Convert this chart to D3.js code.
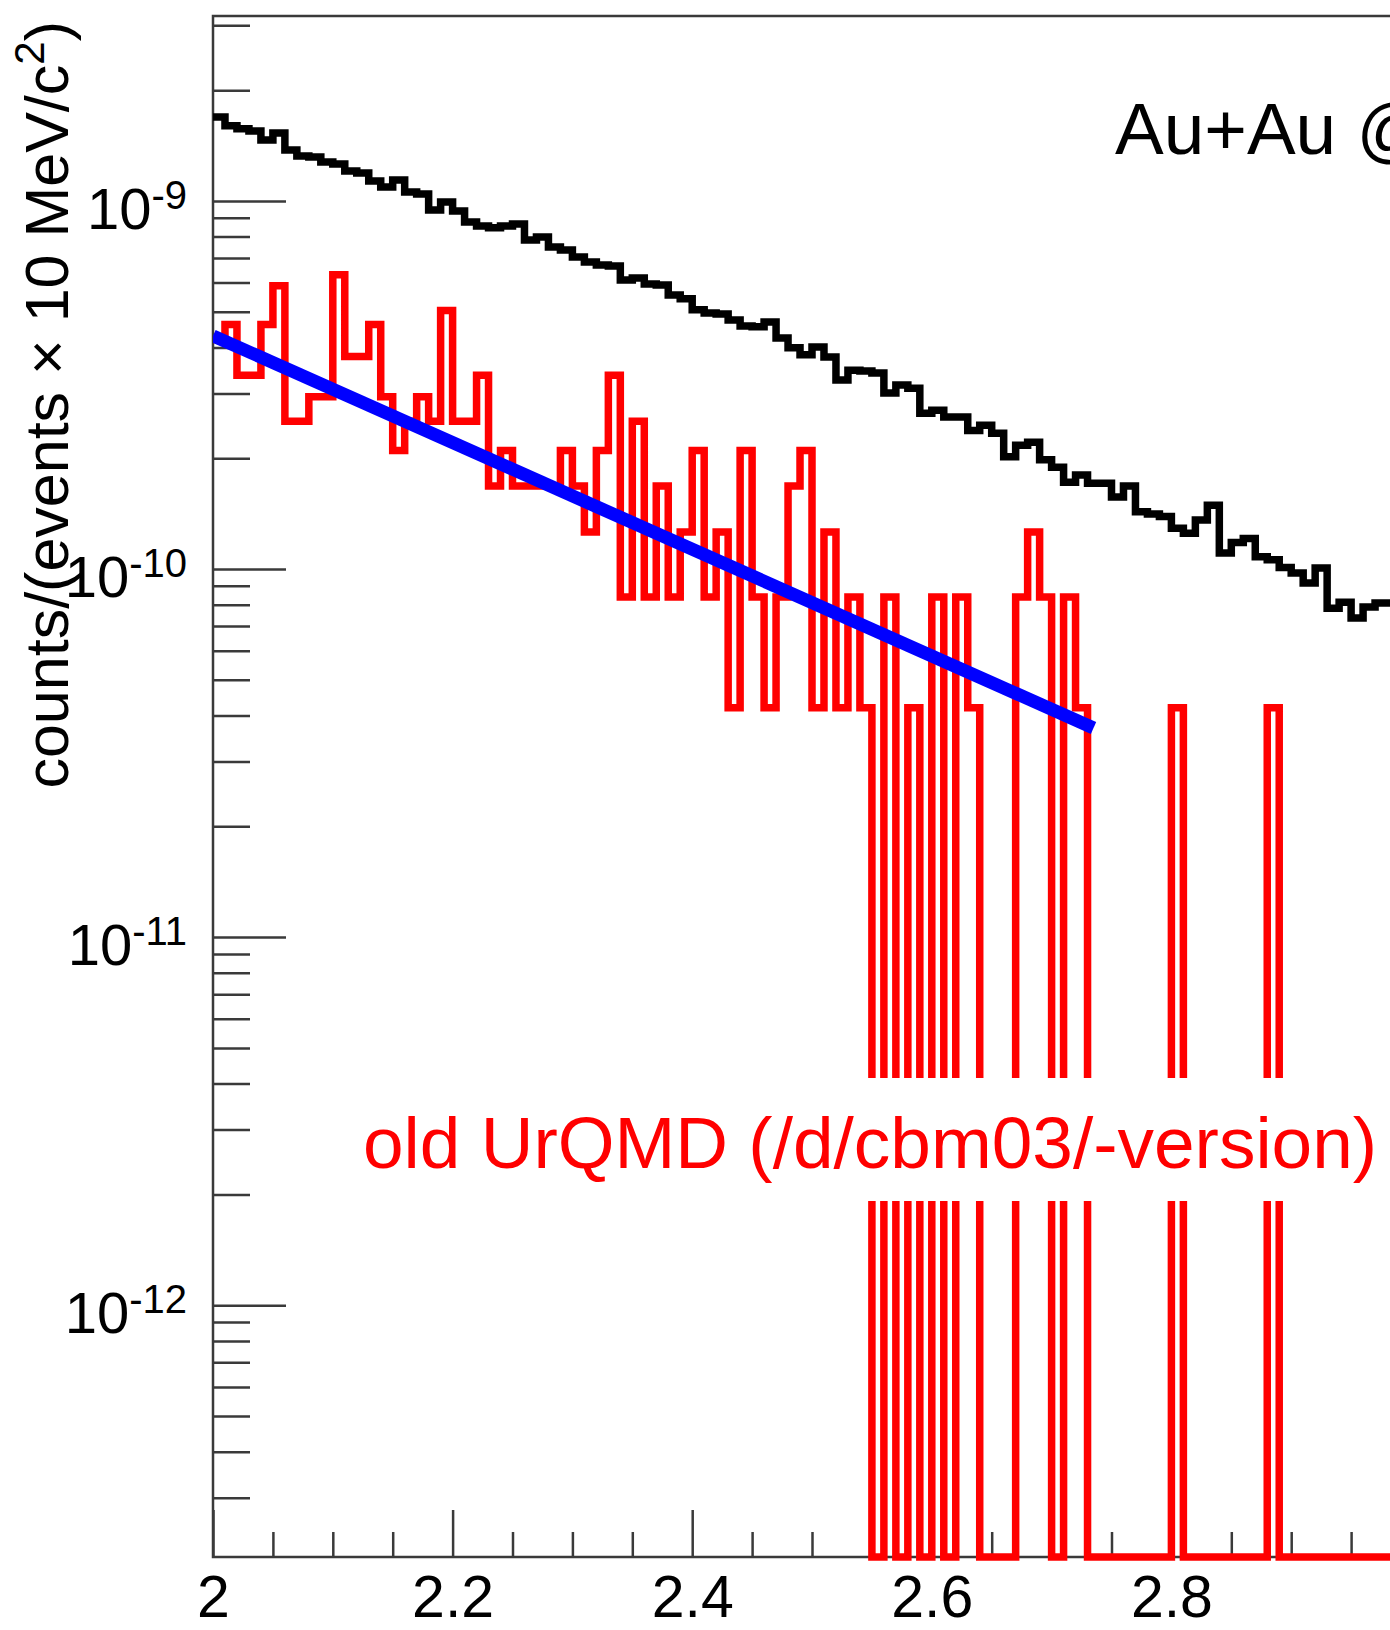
<!DOCTYPE html>
<html>
<head>
<meta charset="utf-8">
<script src="https://cdn.jsdelivr.net/npm/d3@7"></script>
<style>
  body { margin: 0; background: #fff; }
  svg { display: block; font-family: "Liberation Sans", Arial, Helvetica, sans-serif; }
</style>
</head>
<body>
<svg id="chart" width="1390" height="1630"></svg>
<script>
// invariant mass, 10 MeV/c^2 bins from 2 to 3 GeV/c^2
const massRange = [2.0, 3.0];
const binWidth = 0.01;

// all pairs (black)
const allSpectrum = [
    1.69e-9, 1.60e-9, 1.57e-9, 1.55e-9, 1.465e-9, 1.53e-9, 1.376e-9, 1.325e-9, 1.317e-9, 1.276e-9,
    1.26e-9, 1.206e-9, 1.191e-9, 1.133e-9, 1.091e-9, 1.14e-9, 1.058e-9, 1.045e-9, 9.45e-10, 9.94e-10,
    9.39e-10, 8.77e-10, 8.55e-10, 8.45e-10, 8.55e-10, 8.66e-10, 7.83e-10, 7.98e-10, 7.50e-10, 7.36e-10,
    7.04e-10, 6.83e-10, 6.70e-10, 6.66e-10, 6.10e-10, 6.18e-10, 5.95e-10, 5.91e-10, 5.55e-10, 5.42e-10,
    5.06e-10, 4.96e-10, 4.93e-10, 4.75e-10, 4.57e-10, 4.55e-10, 4.69e-10, 4.24e-10, 3.99e-10, 3.82e-10,
    4.01e-10, 3.77e-10, 3.26e-10, 3.47e-10, 3.45e-10, 3.41e-10, 3.01e-10, 3.16e-10, 3.10e-10, 2.65e-10,
    2.70e-10, 2.59e-10, 2.59e-10, 2.38e-10, 2.46e-10, 2.34e-10, 2.02e-10, 2.17e-10, 2.21e-10, 1.98e-10,
    1.89e-10, 1.72e-10, 1.80e-10, 1.71e-10, 1.71e-10, 1.57e-10, 1.68e-10, 1.43e-10, 1.41e-10, 1.39e-10,
    1.29e-10, 1.25e-10, 1.36e-10, 1.49e-10, 1.105e-10, 1.18e-10, 1.21e-10, 1.08e-10, 1.06e-10, 1.01e-10,
    9.75e-11, 9.16e-11, 1.006e-10, 7.83e-11, 8.13e-11, 7.36e-11, 7.88e-11, 8.09e-11, 8.09e-11, 7.74e-11
];

// old UrQMD (red), empty bins are 0
const oldUrqmdSpectrum = [
    4.2e-10, 4.62e-10, 3.36e-10, 3.36e-10, 4.62e-10, 5.88e-10, 2.52e-10, 2.52e-10, 2.94e-10, 2.94e-10,
    6.3e-10, 3.78e-10, 3.78e-10, 4.62e-10, 2.94e-10, 2.1e-10, 2.52e-10, 2.94e-10, 2.52e-10, 5.04e-10,
    2.52e-10, 2.52e-10, 3.36e-10, 1.68e-10, 2.1e-10, 1.68e-10, 1.68e-10, 1.68e-10, 1.68e-10, 2.1e-10,
    1.68e-10, 1.26e-10, 2.1e-10, 3.36e-10, 8.4e-11, 2.52e-10, 8.4e-11, 1.68e-10, 8.4e-11, 1.26e-10,
    2.1e-10, 8.4e-11, 1.26e-10, 4.2e-11, 2.1e-10, 8.4e-11, 4.2e-11, 8.4e-11, 1.68e-10, 2.1e-10,
    4.2e-11, 1.26e-10, 4.2e-11, 8.4e-11, 4.2e-11, 0, 8.4e-11, 0, 4.2e-11, 0,
    8.4e-11, 0, 8.4e-11, 4.2e-11, 0, 0, 0, 8.4e-11, 1.26e-10, 8.4e-11,
    0, 8.4e-11, 4.2e-11, 0, 0, 0, 0, 0, 0, 0,
    4.2e-11, 0, 0, 0, 0, 0, 0, 0, 4.2e-11, 0,
    0, 0, 0, 0, 0, 0, 0, 0, 0, 0
];

// exponential fit, end points of the fitted range
const fitEnds = [[2.0, 4.3e-10], [2.735, 3.7e-11]];

// the 3.0 label sits outside the visible picture, only the tick is kept
const xTickValues = [2, 2.2, 2.4, 2.6, 2.8, 3];
const xLabelValues = [2, 2.2, 2.4, 2.6, 2.8];
const yRange = [2.07e-13, 3.18e-9];
const yDecades = [1e-9, 1e-10, 1e-11, 1e-12];
const yDecadeExponents = ["-9", "-10", "-11", "-12"];

const systemLabel = "Au+Au @ 25 AGeV";
const modelLabel = "old UrQMD (/d/cbm03/-version)";

const frame = { left: 213, top: 16, right: 1411, bottom: 1557 };
const AXIS_COLOR = "#3a3a3a";

const svg = d3.select("#chart");

const x = d3.scaleLinear().domain(massRange).range([frame.left, frame.right]);
const y = d3.scaleLog().domain(yRange).range([frame.bottom, frame.top]);

// empty bins drop to the bottom of the frame, like ROOT does on a log axis
const yPos = (v) => v > 0 ? y(v) : frame.bottom;

function drawAxes() {
    let minorX = d3.range(0, 21).map((i) => massRange[0] + i * 0.05)
        .filter((v) => Math.abs(v * 5 - Math.round(v * 5)) > 1e-6);

    let minorY = [];
    for (let e = -13; e <= -9; e++) {
        for (let k = 2; k <= 9; k++) {
            let v = k * Math.pow(10, e);
            if (v >= yRange[0] && v <= yRange[1]) minorY.push(v);
        }
    }

    let xMajor = d3.axisBottom(x).tickValues(xTickValues).tickSize(-47).tickFormat("");
    let xMinor = d3.axisBottom(x).tickValues(minorX).tickSize(-25).tickFormat("");
    let xLabels = d3.axisBottom(x)
        .tickValues(xLabelValues)
        .tickSize(0)
        .tickPadding(18)
        .tickFormat(d3.format("~g"));

    let yMajor = d3.axisRight(y).tickValues(yDecades).tickSize(73).tickFormat("");
    let yMinor = d3.axisRight(y).tickValues(minorY).tickSize(37).tickFormat("");

    let gx = svg.append("g").attr("transform", `translate(0,${frame.bottom})`);
    gx.append("g").call(xMinor);
    gx.append("g").call(xMajor);
    gx.append("g").call(xLabels)
        .selectAll("text")
        .attr("fill", "#000")
        .style("font-size", "59px");

    let gy = svg.append("g").attr("transform", `translate(${frame.left},0)`);
    gy.append("g").call(yMinor);
    gy.append("g").call(yMajor);

    svg.selectAll(".domain").remove();
    svg.selectAll(".tick line")
        .attr("stroke", AXIS_COLOR)
        .attr("stroke-width", 2.5);

    svg.append("rect")
        .attr("x", frame.left)
        .attr("y", frame.top)
        .attr("width", frame.right - frame.left)
        .attr("height", frame.bottom - frame.top)
        .attr("fill", "none")
        .attr("stroke", AXIS_COLOR)
        .attr("stroke-width", 2.5);

    // 10^n labels
    let labels = svg.append("g")
        .attr("text-anchor", "end")
        .style("font-size", "58px");

    yDecades.forEach((d, i) => {
        let t = labels.append("text")
            .attr("x", 187)
            .attr("y", y(d) + 28);
        t.append("tspan").text("10");
        t.append("tspan")
            .attr("dy", -20)
            .style("font-size", "40px")
            .text(yDecadeExponents[i]);
    });

    let title = svg.append("text")
        .attr("transform", "translate(68,21) rotate(-90)")
        .attr("text-anchor", "end")
        .style("font-size", "61px");
    title.append("tspan").text("counts/(events \u00d7 10 MeV/c");
    title.append("tspan").attr("dy", -24).style("font-size", "42px").text("2");
    title.append("tspan").attr("dy", 24).text(")");
}

function drawHistogram(layer, values, color) {
    let points = values.map((v, i) => [massRange[0] + i * binWidth, v]);
    points.push([massRange[1], values[values.length - 1]]);

    let line = d3.line()
        .x((d) => x(d[0]))
        .y((d) => yPos(d[1]))
        .curve(d3.curveStepAfter);

    layer.append("path")
        .datum(points)
        .attr("d", line)
        .attr("fill", "none")
        .attr("stroke", color)
        .attr("stroke-width", 7.5)
        .attr("stroke-linejoin", "miter");
}

function drawFit(layer) {
    let line = d3.line()
        .x((d) => x(d[0]))
        .y((d) => y(d[1]));

    layer.append("path")
        .datum(fitEnds)
        .attr("d", line)
        .attr("fill", "none")
        .attr("stroke", "#0000ff")
        .attr("stroke-width", 13);
}

function drawLabels() {
    svg.append("rect")
        .attr("x", 350)
        .attr("y", 1078)
        .attr("width", 1100)
        .attr("height", 123)
        .attr("fill", "#fff");

    svg.append("text")
        .attr("x", 363)
        .attr("y", 1168)
        .attr("fill", "#ff0000")
        .style("font-size", "73px")
        .text(modelLabel);

    svg.append("text")
        .attr("x", 1115)
        .attr("y", 154)
        .attr("fill", "#000")
        .style("font-size", "73px")
        .text(systemLabel);
}

drawAxes();

svg.append("defs").append("clipPath")
    .attr("id", "frame-clip")
    .append("rect")
    .attr("x", frame.left)
    .attr("y", frame.top)
    .attr("width", frame.right - frame.left)
    .attr("height", frame.bottom - frame.top + 5);

let plot = svg.append("g").attr("clip-path", "url(#frame-clip)");
drawHistogram(plot, allSpectrum, "#000");
drawHistogram(plot, oldUrqmdSpectrum, "#ff0000");
drawFit(plot);

drawLabels();
</script>
</body>
</html>
